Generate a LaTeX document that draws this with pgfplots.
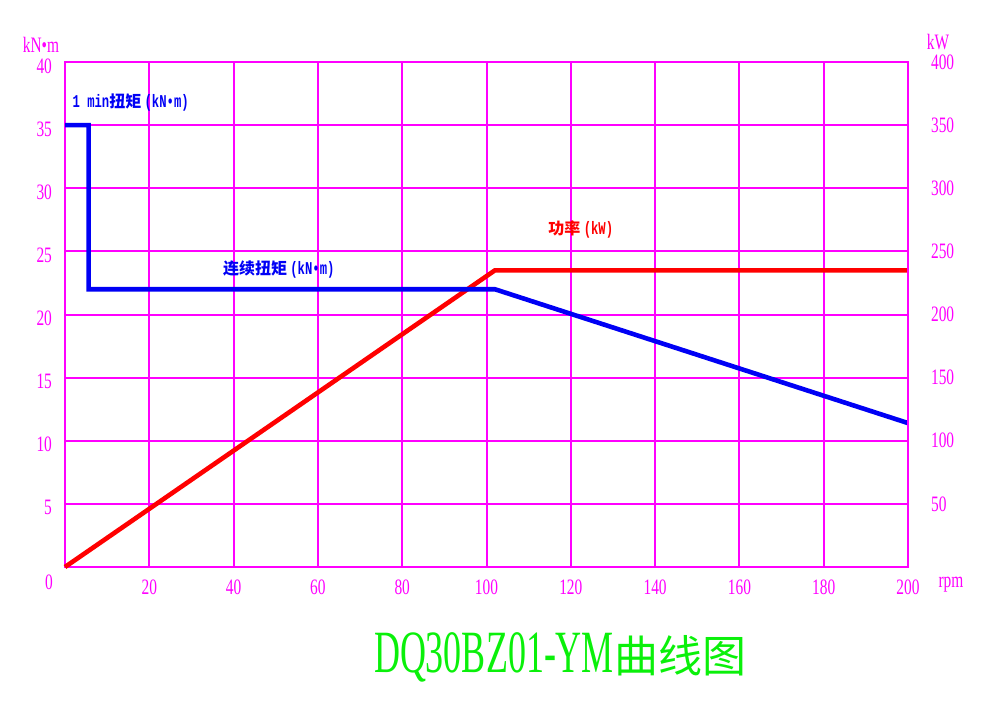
\documentclass[border=0pt]{standalone}
\usepackage{pgfplots}
\pgfplotsset{compat=1.18}
\usepackage{fontspec}
\setmainfont{Liberation Serif}[FakeStretch=0.7]
\newfontfamily\titlefont{Liberation Serif}[FakeStretch=0.6]
\newfontfamily\lbl{Liberation Mono}[FakeStretch=0.68]
\newfontfamily\cjk{Noto Sans CJK SC}
\definecolor{mag}{RGB}{255,0,255}
\definecolor{bl}{RGB}{0,0,245}
\definecolor{rd}{RGB}{255,0,0}
\definecolor{gr}{RGB}{10,240,10}
\newcommand{\Cj}[1]{{\cjk\fontsize{8}{9}\selectfont #1}}
\newcommand{\Lt}[1]{{\lbl\fontsize{9}{10}\selectfont #1}}
\begin{document}
\begin{tikzpicture}
\useasboundingbox (0,0) rectangle (500pt,353.5pt);
\begin{axis}[
  at={(32.5pt,70pt)}, anchor=south west,
  width=421.5pt, height=252.5pt, scale only axis,
  xmin=0, xmax=200, ymin=0, ymax=40,
  xtick={20,40,...,200}, ytick={5,10,...,40},
  extra x ticks={0}, extra x tick style={xticklabel style={xshift=-8pt, yshift=2.5pt}, grid=none},
  grid=major, grid style={mag, line width=1pt},
  axis line style={mag, line width=1.2pt},
  major tick length=0pt,
  tick label style={mag, font=\fontsize{11}{12}\selectfont},
  /pgf/number format/assume math mode=true,
  /pgf/number format/1000 sep={},
  xticklabel style={yshift=-3pt},
  yticklabel style={yshift=-2pt, xshift=-3pt},
  clip=false,
]
\addplot[rd, line width=2.3pt] coordinates {(0,0) (102,23.5) (200,23.5)};
\addplot[bl, line width=2.3pt] coordinates {(0,35) (5.6,35) (5.6,22) (102,22) (200,11.4)};
\node[anchor=west, bl, font=\bfseries, inner sep=0pt] at (axis cs:1.7,36.75) {\Lt{1 min}\Cj{扭矩}\,\Lt{(kN•m)}};
\node[anchor=west, bl, font=\bfseries, inner sep=0pt] at (axis cs:37.4,23.6) {\Cj{连续扭矩}\,\Lt{(kN•m)}};
\node[anchor=west, rd, font=\bfseries, inner sep=0pt] at (axis cs:114.6,26.7) {\Cj{功率}\,\Lt{(kW)}};
\node[mag, font=\fontsize{11}{12}\selectfont] at ([xshift=-12pt, yshift=8.5pt]axis cs:0,40) {kN•m};
\node[mag, font=\fontsize{11}{12}\selectfont] at ([xshift=15pt, yshift=10pt]axis cs:200,40) {kW};
\node[mag, font=\fontsize{11}{12}\selectfont] at ([xshift=21.5pt, yshift=-9pt]axis cs:200,0) {rpm};
\end{axis}
\begin{axis}[
  at={(32.5pt,70pt)}, anchor=south west,
  width=421.5pt, height=252.5pt, scale only axis,
  xmin=0, xmax=200, ymin=0, ymax=400,
  axis x line=none, axis y line*=right,
  ytick={50,100,...,400},
  axis line style={mag, line width=1.2pt},
  major tick length=0pt,
  tick label style={mag, font=\fontsize{11}{12}\selectfont},
  /pgf/number format/assume math mode=true,
  /pgf/number format/1000 sep={},
  yticklabel style={anchor=west, xshift=8pt},
]
\addplot[draw=none] coordinates {(0,0) (200,400)};
\end{axis}
\node[gr, anchor=center] at (280pt,25pt) {\titlefont\fontsize{30}{32}\selectfont DQ30BZ01-YM\cjk\fontsize{22}{24}\selectfont 曲线图};
\end{tikzpicture}
\end{document}
